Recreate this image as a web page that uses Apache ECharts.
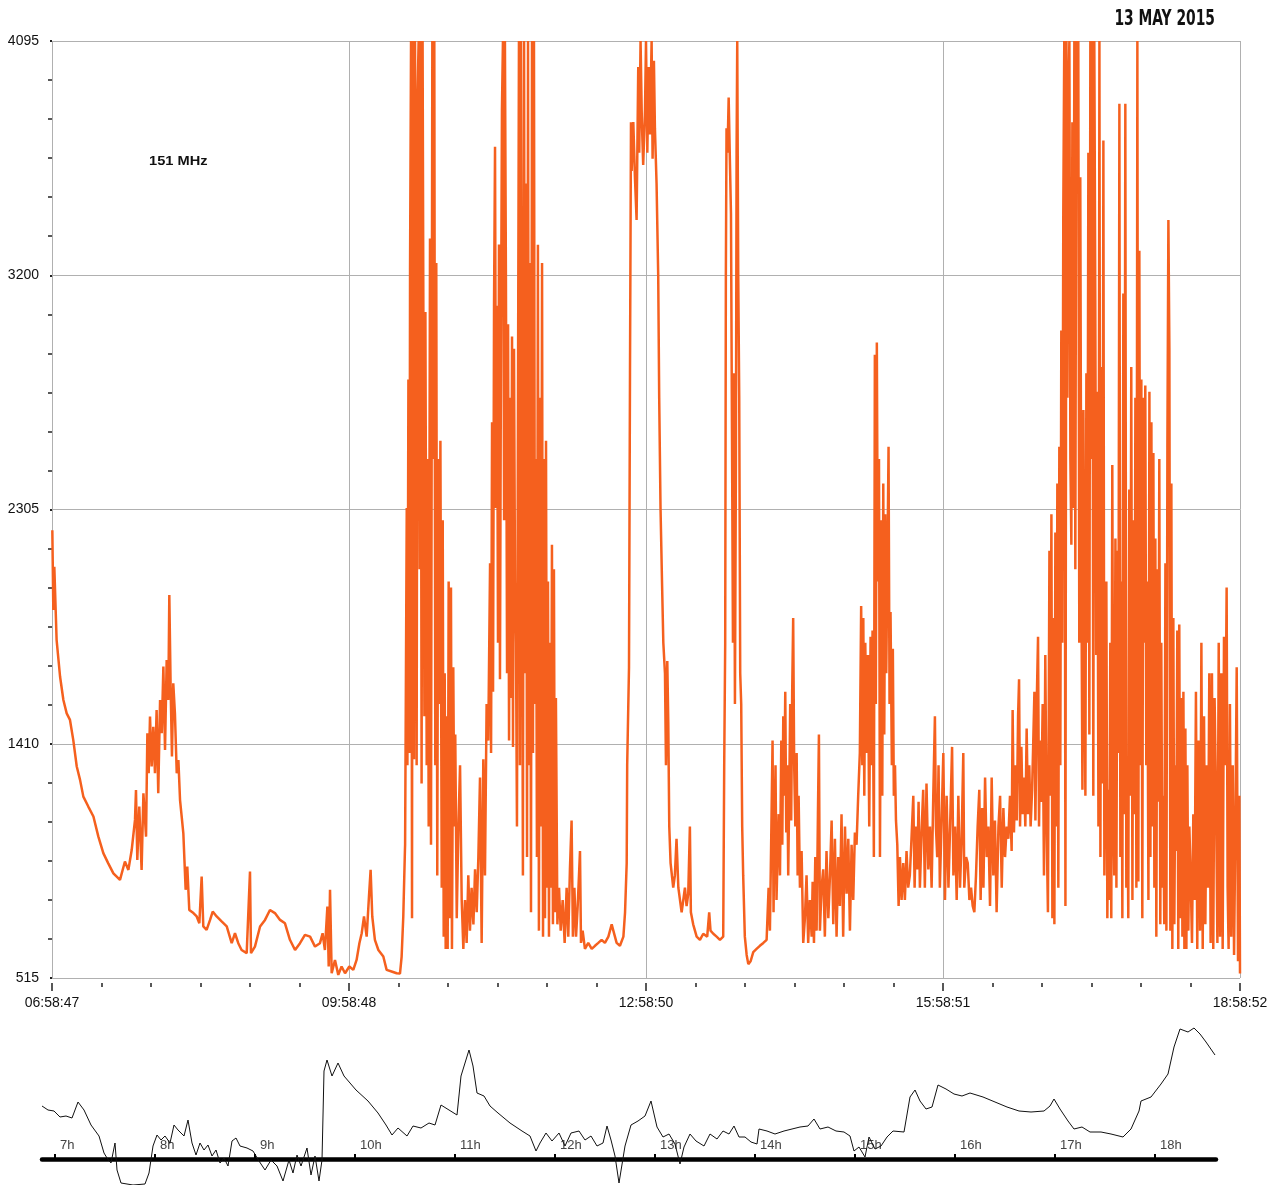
<!DOCTYPE html>
<html><head><meta charset="utf-8">
<script src="https://cdn.jsdelivr.net/npm/echarts@6/dist/echarts.min.js"></script>
<style>html,body{margin:0;padding:0;background:#fff}#c{width:1277px;height:1185px}</style>
</head><body><div id="c"></div>
<script>
// x: minutes since 06:58:47 ; y: receiver level (ADC counts)
const xTickLabels = ['06:58:47','09:58:48','12:58:50','15:58:51','18:58:52'];
const hourTicks = [7,8,9,10,11,12,13,14,15,16,17,18];
const chartTitle = '13 MAY 2015';
const bandLabel = '151 MHz';

const morning = [[0.2,2226],[0.8,1921],[1.4,2086],[2.8,1806],[4.9,1666],[6.9,1577],[8.9,1526],[10.9,1501],[12.9,1424],[15.0,1323],[17.0,1272],[19.0,1208],[22.0,1170],[25.1,1132],[28.1,1055],[31.1,992],[34.1,953],[37.2,915],[41.2,890],[44.2,960],[46.3,928],[48.3,1004],[50.3,1119],[50.9,1233],[51.7,966],[52.9,1170],[54.3,928],[55.4,1221],[57.0,1055],[57.8,1450],[58.6,1297],[59.4,1514],[60.4,1323],[61.4,1475],[62.4,1297],[63.4,1539],[64.4,1221],[65.5,1577],[66.5,1450],[67.5,1705],[68.5,1386],[69.5,1730],[70.5,1577],[71.1,1978],[71.9,1628],[72.7,1361],[73.5,1641],[74.5,1526],[75.6,1297],[76.6,1348],[77.6,1195],[78.6,1132],[79.6,1068],[81.0,852],[82.0,941],[83.2,775],[85.7,763],[87.7,750],[89.3,724],[90.7,903],[91.7,712],[93.7,699],[95.8,737],[97.4,769],[99.8,750],[102.8,731],[105.9,712],[108.9,648],[110.9,686],[112.9,648],[114.9,622],[118.0,610],[120.0,922],[120.6,610],[123.0,635],[126.1,712],[129.1,737],[132.1,775],[135.1,763],[138.2,737],[141.2,724],[144.2,661],[147.3,622],[150.3,648],[153.3,680],[156.4,673],[159.4,635],[162.4,648],[164.0,686],[165.4,622],[166.9,788],[167.7,559],[168.5,852],[169.5,533],[171.5,584],[173.5,527],[175.5,559],[177.6,533],[180.2,559],[182.6,546],[184.6,584],[186.3,648],[187.7,686],[189.1,750],[190.7,673],[192.1,826],[193.1,928],[194.1,750],[195.7,661],[197.8,622],[200.8,597],[202.8,546],[205.8,540],[208.9,533],[210.9,532],[211.9,597],[212.9,750],[213.9,1004]];

const bursts10to13 = [[214.0,1024],[215.0,2311],[215.4,1328],[216.0,2802],[216.6,1375],[217.0,3223],[217.6,4095],[218.2,743],[218.6,4095],[219.4,1351],[220.0,4095],[220.6,2966],[221.0,1328],[221.6,3902],[222.2,4095],[222.8,2077],[223.4,4095],[224.0,1258],[224.6,4095],[225.1,3013],[225.7,1515],[226.3,3060],[227.1,1328],[227.7,2498],[228.3,1094],[229.1,3340],[229.7,1024],[230.5,4095],[231.1,2498],[231.7,4095],[232.3,1328],[232.9,3247],[233.5,907],[234.1,2498],[234.7,1562],[235.4,2568],[236.2,860],[236.8,2264],[237.4,673],[238.0,1679],[238.6,626],[239.2,1515],[239.8,626],[240.4,2030],[241.2,743],[241.8,2007],[242.4,626],[243.2,1702],[243.8,1094],[244.4,1445],[245.3,743],[246.3,1094],[247.3,1328],[248.3,813],[249.3,626],[250.3,813],[251.3,649],[252.3,907],[253.3,696],[254.3,860],[255.4,720],[256.4,930],[257.4,766],[258.4,977],[259.4,1281],[260.4,649],[261.4,1351],[262.4,907],[263.4,1562],[264.4,1422],[265.5,2100],[266.1,1375],[266.7,2638],[267.3,1609],[267.9,3083],[268.5,3691],[269.1,2311],[269.7,3083],[270.3,1796],[270.9,3317],[271.5,1656],[272.1,2919],[272.7,3832],[273.3,4095],[274.0,2264],[274.5,4095],[275.1,3200],[275.8,1679],[276.4,3013],[277.0,1422],[277.6,2732],[278.2,1585],[278.8,2966],[279.4,1398],[280.0,2919],[280.6,2030],[281.2,1796],[281.8,1094],[282.4,2685],[283.0,4095],[283.6,1328],[284.2,4095],[284.8,2498],[285.4,907],[286.1,4095],[286.7,1679],[287.3,3551],[287.9,977],[288.5,4095],[289.1,1328],[289.7,3247],[290.3,766],[290.9,4095],[291.5,1375],[292.1,4095],[292.7,1562],[293.3,2498],[293.9,977],[294.5,3317],[295.1,696],[295.8,2732],[296.4,1094],[297.0,3247],[297.6,673],[298.2,2498],[298.8,743],[299.4,2568],[300.0,860],[300.6,2030],[301.2,673],[301.8,1796],[302.4,860],[303.0,2170],[303.6,720],[304.2,2077],[304.8,766],[305.4,1585],[306.3,720],[307.3,860],[308.3,696],[309.5,813],[310.7,649],[311.9,860],[312.9,673],[313.9,930],[314.9,1117],[315.7,673],[316.6,860],[317.6,673],[318.6,790],[320.0,1000],[320.6,649],[321.6,696],[323.0,626],[325.0,649],[327.1,626],[329.1,638],[331.1,649],[333.1,661],[335.1,649],[337.2,673],[339.2,720],[340.2,696],[342.2,649],[344.2,638],[346.3,673],[347.3,766],[348.3,954]];

const bursts13to16 = [[348.6,1328],[349.7,1702],[350.3,2826],[350.9,3785],[351.3,3598],[352.3,3785],[353.3,3574],[354.3,3411],[355.3,3996],[355.9,3668],[356.7,4095],[357.5,3785],[358.3,3621],[359.4,3832],[360.0,4095],[360.8,3668],[361.6,3996],[362.4,3738],[363.4,4095],[364.0,3645],[364.8,4019],[365.4,3762],[366.4,3551],[367.4,3200],[368.0,2732],[368.8,2311],[369.7,2030],[370.5,1796],[371.5,1679],[372.1,1328],[372.9,1726],[373.5,1492],[374.1,1094],[374.9,954],[376.5,860],[377.5,907],[378.5,1047],[379.6,860],[381.6,766],[383.6,860],[384.6,790],[385.6,837],[386.6,1094],[387.2,766],[388.6,720],[390.7,673],[392.7,661],[394.7,684],[397.1,673],[398.3,766],[399.1,696],[400.8,684],[402.8,673],[404.8,661],[406.8,673],[407.4,1328],[408.0,1796],[408.4,3200],[408.8,3762],[409.4,3668],[410.1,3879],[410.9,3621],[411.5,3434],[412.1,2615],[412.7,1796],[413.3,2826],[413.9,1562],[414.5,2498],[414.9,3668],[415.3,4095],[415.9,3200],[416.5,2732],[417.1,1679],[417.7,1562],[418.3,1094],[418.9,907],[419.9,673],[421.0,603],[422.0,568],[423.4,579],[425.0,614],[427.0,626],[429.0,638],[431.1,649],[433.1,661],[434.3,860],[435.1,696],[436.1,1141],[436.7,1422],[437.3,766],[437.9,1094],[438.5,1328],[439.1,813],[439.7,977],[440.4,1141],[441.2,907],[442.0,1422],[442.6,1024],[443.2,1515],[443.8,1211],[444.4,1609],[445.0,1071],[445.6,1328],[446.2,907],[446.8,1211],[447.4,1562],[448.0,1117],[448.6,1609],[449.2,1890],[449.8,1328],[450.5,1094],[451.3,1375],[451.9,907],[452.5,1211],[453.3,860],[454.3,1000],[455.3,649],[456.3,743],[457.3,907],[458.3,649],[459.3,813],[460.4,673],[461.0,883],[461.8,649],[462.6,977],[463.4,696],[464.2,1141],[464.8,1445],[465.4,696],[466.4,860],[467.4,930],[468.4,673],[469.4,1000],[470.5,743],[471.5,907],[472.5,1117],[473.5,720],[474.5,1047],[475.5,673],[476.5,977],[477.5,790],[478.5,1141],[479.5,673],[480.6,1094],[481.6,837],[482.6,1047],[483.6,696],[484.6,1024],[485.6,813],[486.6,1071],[487.6,1024],[488.6,1211],[489.6,1375],[490.4,1936],[491.1,1328],[491.7,1890],[492.3,1211],[492.9,1796],[493.7,1375],[494.5,1749],[495.3,1094],[496.1,1819],[496.7,1328],[497.3,1843],[498.1,977],[498.7,2896],[499.3,1562],[499.9,2943],[500.5,2030],[501.2,2498],[501.8,977],[502.6,2264],[503.2,1211],[503.8,2404],[504.4,1445],[505.0,2287],[505.6,1679],[506.2,2030],[507.0,2545],[507.6,1562],[508.2,1913],[509.0,1328],[509.6,1773],[510.2,1211],[510.9,1328],[511.5,1117],[512.3,1024],[513.1,790],[513.9,977],[514.9,813],[515.9,954],[516.9,813],[517.9,1000],[518.9,860],[519.9,907],[520.9,1047],[522.0,1211],[522.8,860],[523.6,1094],[524.4,930],[525.2,1188],[526.0,860],[527.0,1071],[528.0,1234],[529.0,860],[530.0,1258],[531.1,930],[532.1,1094],[533.1,860],[534.1,1211],[535.1,1515],[535.7,1094],[536.5,977],[537.3,1328],[538.1,860]];

const bursts16to19 = [[539.2,860],[540.2,1375],[541.2,813],[542.2,1211],[543.3,860],[544.3,1094],[545.5,1398],[546.3,907],[547.3,1094],[548.3,813],[549.3,1211],[550.3,860],[551.3,1047],[552.3,1375],[552.9,860],[554.0,977],[555.0,954],[556.0,813],[557.0,860],[558.0,790],[559.0,766],[560.0,907],[561.0,1094],[562.0,1234],[562.8,813],[563.7,1164],[564.5,860],[565.5,1281],[566.5,977],[567.5,1094],[568.5,790],[569.5,1281],[570.5,907],[571.5,1117],[572.5,766],[573.6,1094],[574.6,1211],[575.6,860],[576.6,1164],[577.6,977],[578.6,1094],[579.6,1047],[580.6,1211],[581.6,1000],[582.2,1539],[583.0,1071],[583.9,1328],[584.7,1117],[585.5,1515],[586.1,1656],[586.7,1094],[587.5,1398],[588.3,1141],[589.1,1281],[589.9,1094],[590.7,1468],[591.5,1141],[592.3,1328],[593.1,1094],[594.0,1234],[594.8,1445],[595.4,1609],[596.0,1117],[596.8,1562],[597.6,1819],[598.2,1094],[598.8,1422],[599.6,1188],[600.4,1562],[601.2,907],[602.0,1749],[602.8,1094],[603.6,766],[604.5,2147],[605.1,1211],[605.7,2287],[606.3,743],[606.9,1890],[607.5,720],[608.1,2217],[608.7,1094],[609.3,2404],[609.9,860],[610.5,2545],[611.1,1328],[611.7,2989],[612.3,1796],[612.9,3434],[613.5,4095],[614.2,790],[614.8,4095],[615.4,2732],[616.0,3902],[616.6,4095],[617.2,2498],[617.8,2170],[618.4,3785],[619.0,2311],[619.6,4095],[620.2,2077],[620.8,4095],[621.4,3668],[622.0,4095],[622.6,1796],[623.2,3574],[623.8,2124],[624.5,1234],[625.1,2685],[625.7,1679],[626.3,1211],[626.9,2826],[627.5,1796],[628.1,3668],[628.7,1445],[629.3,4095],[629.9,2498],[630.5,4095],[631.1,1211],[631.7,4095],[632.3,3106],[632.9,1749],[633.5,2755],[634.2,1094],[634.8,4095],[635.4,977],[636.0,2849],[636.6,1258],[637.2,3715],[637.8,907],[638.4,1328],[639.0,2030],[639.6,743],[640.2,1234],[640.8,813],[641.4,1796],[642.0,743],[642.6,2475],[643.2,1141],[643.8,907],[644.5,2194],[645.1,860],[645.7,2147],[646.3,1375],[646.9,3855],[647.5,977],[648.1,2030],[648.7,743],[649.3,3130],[649.9,1141],[650.5,3855],[651.1,860],[651.7,1328],[652.3,743],[652.9,2381],[653.5,1211],[654.1,2849],[654.8,813],[655.4,2264],[656.0,1141],[656.6,2732],[657.2,860],[657.8,4095],[658.4,884],[659.0,3294],[659.6,1328],[660.2,2802],[660.8,743],[661.4,2732],[662.0,1796],[662.6,2779],[663.2,1328],[663.8,2030],[664.5,813],[665.1,2755],[665.7,977],[666.3,2638],[666.9,1094],[667.5,2521],[668.1,860],[668.7,2194],[669.3,673],[669.9,2077],[670.5,1188],[671.1,2498],[671.7,720],[672.3,1796],[672.9,860],[673.5,1211],[674.1,720],[674.8,2100],[675.4,696],[676.0,2545],[676.6,3411],[677.2,2919],[677.8,696],[678.4,2404],[679.0,626],[679.6,1890],[680.2,720],[680.8,1328],[681.4,1000],[682.0,1843],[682.6,626],[683.2,1866],[683.8,743],[684.4,1585],[685.1,673],[685.7,1609],[686.3,626],[686.9,1468],[687.5,626],[688.1,1328],[688.7,696],[689.3,1094],[690.1,907],[690.9,649],[691.7,1141],[692.5,813],[693.3,1609],[694.1,626],[694.9,1422],[695.8,696],[696.6,1796],[697.4,626],[698.2,1515],[699.0,720],[699.8,1328],[700.6,860],[701.4,1679],[702.2,649],[703.0,1679],[703.8,626],[704.6,1585],[705.5,1188],[706.3,649],[707.1,1796],[707.9,673],[708.7,1679],[709.5,626],[710.3,1819],[711.1,1328],[711.9,2007],[712.5,860],[713.1,626],[713.9,1562],[714.7,673],[715.6,1328],[716.4,603],[717.2,1094],[718.0,1702],[718.8,579],[719.6,1211],[720.0,532]];

// lower trace: hour of day vs. deflection (arbitrary units, 0 = baseline)
const magnetogram = [[6.87,53],[6.93,49],[6.99,48],[7.05,42],[7.11,43],[7.17,41],[7.23,57],[7.29,49],[7.36,34],[7.44,23],[7.49,6],[7.52,1],[7.56,-4],[7.60,16],[7.62,-11],[7.66,-24],[7.78,-26],[7.90,-25],[7.94,-14],[7.98,13],[8.02,24],[8.06,19],[8.10,23],[8.15,16],[8.19,34],[8.23,29],[8.29,23],[8.33,39],[8.37,16],[8.41,4],[8.45,16],[8.49,9],[8.53,14],[8.57,3],[8.61,9],[8.65,-4],[8.69,1],[8.73,-7],[8.77,18],[8.81,21],[8.85,13],[8.92,11],[8.98,8],[9.04,-2],[9.10,-11],[9.16,-1],[9.22,-7],[9.28,-22],[9.34,-1],[9.38,-14],[9.42,4],[9.46,-7],[9.52,11],[9.56,-16],[9.60,3],[9.64,-22],[9.67,-1],[9.69,88],[9.72,99],[9.77,83],[9.83,96],[9.89,83],[10.01,69],[10.13,58],[10.23,46],[10.31,34],[10.37,24],[10.43,31],[10.52,23],[10.58,33],[10.66,31],[10.74,36],[10.80,34],[10.86,54],[10.94,49],[11.02,44],[11.06,83],[11.14,109],[11.18,93],[11.22,66],[11.29,63],[11.35,53],[11.43,46],[11.55,36],[11.67,28],[11.75,23],[11.81,8],[11.85,16],[11.91,26],[11.97,18],[12.04,26],[12.10,13],[12.16,26],[12.24,28],[12.30,19],[12.36,23],[12.42,13],[12.48,16],[12.52,33],[12.56,19],[12.60,3],[12.64,-24],[12.70,13],[12.76,34],[12.83,38],[12.90,43],[12.96,58],[13.02,32],[13.08,22],[13.14,25],[13.20,15],[13.25,-5],[13.29,12],[13.35,25],[13.41,18],[13.49,13],[13.55,25],[13.62,20],[13.68,28],[13.74,25],[13.79,33],[13.84,22],[13.90,22],[13.96,17],[14.02,15],[14.04,30],[14.12,28],[14.20,25],[14.29,28],[14.37,30],[14.45,32],[14.53,33],[14.59,40],[14.65,30],[14.73,32],[14.81,28],[14.89,27],[14.95,23],[14.99,8],[15.04,12],[15.10,2],[15.14,22],[15.20,10],[15.26,13],[15.32,22],[15.38,28],[15.49,27],[15.55,62],[15.60,69],[15.65,58],[15.71,50],[15.77,52],[15.83,74],[15.91,70],[15.99,65],[16.07,63],[16.15,66],[16.28,62],[16.40,57],[16.52,52],[16.64,48],[16.76,47],[16.89,48],[16.95,53],[16.99,60],[17.05,50],[17.13,38],[17.19,30],[17.27,32],[17.35,27],[17.46,27],[17.56,25],[17.68,22],[17.76,30],[17.84,48],[17.86,58],[17.96,62],[18.06,75],[18.13,85],[18.19,112],[18.25,130],[18.33,127],[18.39,131],[18.45,125],[18.51,117],[18.60,104]];

const radioLevel = morning.concat(bursts10to13, bursts13to16, bursts16to19);

const chart = echarts.init(document.getElementById('c'), null, {renderer: 'canvas'});
const gridColor = '#b0b0b0';
const txtFont = '"Liberation Sans", Arial, sans-serif';
chart.setOption({
  animation: false,
  backgroundColor: '#ffffff',
  graphic: [
    {
      type: 'text', x: 1215, y: 8, scaleX: 0.7, originX: 0, originY: 0,
      style: {text: chartTitle, textAlign: 'right', textVerticalAlign: 'top',
        font: 'bold 22px "DejaVu Sans Condensed", "DejaVu Sans", sans-serif', fill: '#111'}
    },
    {
      type: 'text', x: 149, y: 156, scaleX: 1.22, originX: 0, originY: 0,
      style: {text: bandLabel, textVerticalAlign: 'top', font: 'bold 12px "Liberation Sans", Arial, sans-serif', fill: '#111'}
    }
  ],
  grid: [
    {left: 52, top: 41, width: 1188, height: 937},
    // lower panel: the grid is the strip below the baseline; the trace runs above it (clip off)
    {left: 42, top: 1159, width: 1174, height: 26}
  ],
  xAxis: [
    {
      gridIndex: 0, type: 'value', min: 0, max: 720, interval: 180, offset: 5,
      axisLine: {show: false},
      axisTick: {show: true, length: 8, lineStyle: {color: '#222', width: 1.5}},
      minorTick: {show: true, splitNumber: 6, length: 4, lineStyle: {color: '#222', width: 1.5}},
      splitLine: {show: true, lineStyle: {color: gridColor, width: 1}},
      axisLabel: {margin: 13, color: '#111', fontSize: 14, fontFamily: txtFont,
        formatter: v => xTickLabels[Math.round(v / 180)]}
    },
    {
      gridIndex: 1, type: 'value', position: 'top', min: 6.87, max: 18.61,
      axisLine: {show: true, onZero: false, lineStyle: {color: '#000', width: 4.5}},
      axisTick: {show: true, customValues: hourTicks, inside: false, length: 5, lineStyle: {color: '#000', width: 2}},
      axisLabel: {show: true, customValues: hourTicks, inside: false, margin: 7, align: 'left', padding: [0, 0, 0, 5],
        color: '#444', fontSize: 13, fontFamily: txtFont, formatter: v => v + 'h'},
      splitLine: {show: false}
    }
  ],
  yAxis: [
    {
      gridIndex: 0, type: 'value', min: 515, max: 4095, interval: 895, offset: 6,
      axisLine: {show: false},
      axisTick: {show: true, length: 2, lineStyle: {color: '#222', width: 2}},
      minorTick: {show: true, splitNumber: 6, length: 4, lineStyle: {color: '#222', width: 1.5}},
      splitLine: {show: true, lineStyle: {color: gridColor, width: 1}},
      axisLabel: {margin: 7, color: '#111', fontSize: 14, fontFamily: txtFont, formatter: v => String(v)}
    },
    {gridIndex: 1, type: 'value', min: -26, max: 0, show: false, splitLine: {show: false}}
  ],
  series: [
    {
      name: '151 MHz', type: 'line', xAxisIndex: 0, yAxisIndex: 0, data: radioLevel,
      showSymbol: false, symbol: 'none', sampling: null,
      lineStyle: {color: '#f5601e', width: 2.5}, z: 3
    },
    {
      name: 'magnetogram', type: 'line', xAxisIndex: 1, yAxisIndex: 1, data: magnetogram,
      showSymbol: false, symbol: 'none', clip: false,
      lineStyle: {color: '#111', width: 1}, z: 3
    }
  ]
});
</script></body></html>
